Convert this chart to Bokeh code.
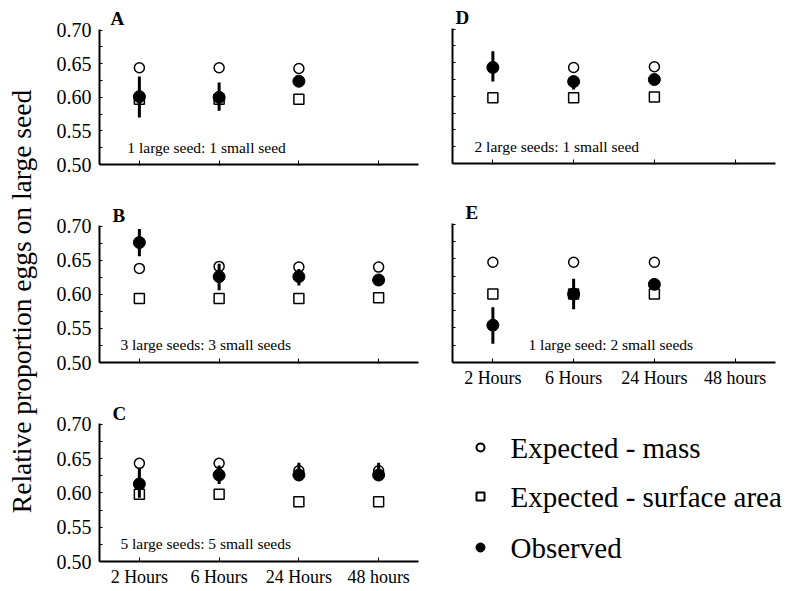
from math import pi
from bokeh.plotting import figure
from bokeh.layouts import row, column
from bokeh.models import (FactorRange, Range1d, FixedTicker, Label,
                          NumeralTickFormatter, ColumnDataSource)
from bokeh.embed import file_html
from bokeh.resources import INLINE

# ---------------- data ----------------
times = ["2 Hours", "6 Hours", "24 Hours", "48 hours"]
y_ticks = [0.50, 0.55, 0.60, 0.65, 0.70]
y_minor = [0.525, 0.575, 0.625, 0.675]

# Panel A: 1 large seed : 1 small seed
A_times = ["2 Hours", "6 Hours", "24 Hours"]
A_mass = [0.644, 0.644, 0.643]
A_surf = [0.597, 0.597, 0.597]
A_obs = [0.601, 0.600, 0.624]
A_lo = [0.570, 0.580, 0.619]
A_hi = [0.631, 0.622, 0.629]

# Panel B: 3 large seeds : 3 small seeds
B_times = ["2 Hours", "6 Hours", "24 Hours", "48 hours"]
B_mass = [0.638, 0.641, 0.640, 0.640]
B_surf = [0.594, 0.594, 0.594, 0.595]
B_obs = [0.676, 0.626, 0.626, 0.621]
B_lo = [0.656, 0.606, 0.613, 0.615]
B_hi = [0.696, 0.645, 0.637, 0.627]

# Panel C: 5 large seeds : 5 small seeds
C_times = ["2 Hours", "6 Hours", "24 Hours", "48 hours"]
C_mass = [0.643, 0.643, 0.632, 0.632]
C_surf = [0.598, 0.598, 0.587, 0.587]
C_obs = [0.613, 0.626, 0.626, 0.626]
C_lo = [0.593, 0.613, 0.618, 0.618]
C_hi = [0.636, 0.640, 0.644, 0.644]

# Panel D: 2 large seeds : 1 small seed
D_times = ["2 Hours", "6 Hours", "24 Hours"]
D_mass = [0.643, 0.643, 0.644]
D_surf = [0.598, 0.598, 0.599]
D_obs = [0.643, 0.622, 0.625]
D_lo = [0.622, 0.610, 0.620]
D_hi = [0.667, 0.628, 0.630]

# Panel E: 1 large seed : 2 small seeds
E_times = ["2 Hours", "6 Hours", "24 Hours"]
E_mass = [0.645, 0.645, 0.645]
E_surf = [0.599, 0.599, 0.599]
E_obs = [0.554, 0.599, 0.613]
E_lo = [0.527, 0.577, 0.608]
E_hi = [0.580, 0.621, 0.618]

legend_labels = ["Expected - mass", "Expected - surface area", "Observed"]
y_title = "Relative proportion eggs on large seed"

SERIF = "Liberation Serif"


def panel(t, mass, surf, obs, lo, hi, letter, note, note_x, letter_off, letter_so,
          w, h, bl, br, bt, bb, show_x, show_y):
    p = figure(width=w, height=h, x_range=FactorRange(*times, range_padding=0),
               y_range=Range1d(0.5, 0.701), output_backend="svg",
               toolbar_location=None, min_border_left=bl, min_border_right=br,
               min_border_top=bt, min_border_bottom=bb)
    p.outline_line_color = None
    p.grid.visible = False
    p.background_fill_color = "white"
    p.border_fill_color = "white"

    p.title.text = letter
    p.title.align = "left"
    p.title.offset = letter_off
    p.title.standoff = letter_so
    p.title.text_font = SERIF
    p.title.text_font_size = "19px"
    p.title.text_font_style = "bold"
    p.title.text_color = "black"

    src = ColumnDataSource(dict(t=t, mass=mass, surf=surf, obs=obs, lo=lo, hi=hi))
    p.scatter("t", "surf", source=src, marker="square", size=10,
              fill_color="white", line_color="black", line_width=1.5)
    p.scatter("t", "mass", source=src, marker="circle", size=10,
              fill_color="white", line_color="black", line_width=1.5)
    p.segment(x0="t", y0="lo", x1="t", y1="hi", source=src,
              line_color="black", line_width=3)
    p.scatter("t", "obs", source=src, marker="circle", size=12,
              fill_color="black", line_color="black", line_width=1)

    # axes
    ya = p.yaxis[0]
    ya.ticker = FixedTicker(ticks=y_ticks, minor_ticks=y_minor)
    ya.formatter = NumeralTickFormatter(format="0.00")
    ya.axis_line_width = 2
    ya.axis_line_color = "black"
    ya.major_tick_in = 3
    ya.major_tick_out = 0
    ya.minor_tick_in = 3
    ya.minor_tick_out = 0
    ya.major_tick_line_color = "black"
    ya.minor_tick_line_color = "black"
    ya.major_label_text_font = SERIF
    ya.major_label_text_color = "black"
    if show_y:
        ya.major_label_standoff = 8
        ya.major_label_text_font_size = "20px"
    else:
        ya.major_label_standoff = 0
        ya.major_label_text_font_size = "1px"
        ya.major_label_overrides = {v: "" for v in y_ticks}

    xa = p.xaxis[0]
    xa.axis_line_width = 2
    xa.axis_line_color = "black"
    xa.major_tick_in = 4
    xa.major_tick_out = 0
    xa.major_tick_line_color = "black"
    xa.major_label_text_font = SERIF
    xa.major_label_text_color = "black"
    if show_x:
        xa.major_label_standoff = 5
        xa.major_label_text_font_size = "18px"
    else:
        xa.major_label_standoff = 0
        xa.major_label_text_font_size = "1px"
        xa.major_label_overrides = {c: "" for c in times}

    p.add_layout(Label(x=note_x, y=0.526, text=note, text_font=SERIF,
                       text_font_size="15.5px", text_baseline="middle",
                       text_color="black"))
    return p


pA = panel(A_times, A_mass, A_surf, A_obs, A_lo, A_hi, "A",
           "1 large seed: 1 small seed", 0.349, 11, 2,
           377, 190, 44, 12, 29, 26, False, True)
pB = panel(B_times, B_mass, B_surf, B_obs, B_lo, B_hi, "B",
           "3 large seeds: 3 small seeds", 0.262, 13, 0,
           377, 190, 44, 12, 35, 18, False, True)
pC = panel(C_times, C_mass, C_surf, C_obs, C_lo, C_hi, "C",
           "5 large seeds: 5 small seeds", 0.262, 13, 0,
           377, 211, 44, 12, 43, 30, True, True)
pD = panel(D_times, D_mass, D_surf, D_obs, D_lo, D_hi, "D",
           "2 large seeds: 1 small seed", 0.272, 3, 2,
           361, 190, 22, 16, 28, 27, False, False)
pE = panel(E_times, E_mass, E_surf, E_obs, E_lo, E_hi, "E",
           "1 large seed: 2 small seeds", 0.941, 13, 1,
           361, 210, 22, 16, 33, 38, True, False)

# legend panel
LW, LH = 361, 191
pL = figure(width=LW, height=LH, x_range=Range1d(0, LW), y_range=Range1d(0, LH),
            output_backend="svg", toolbar_location=None, min_border=0,
            x_axis_location=None, y_axis_location=None)
pL.grid.visible = False
pL.outline_line_color = None
rows_y = [LH - 47, LH - 96, LH - 147]
pL.scatter([50], [rows_y[0]], marker="circle", size=8, fill_color="white",
           line_color="black", line_width=2)
pL.scatter([50], [rows_y[1]], marker="square", size=8, fill_color="white",
           line_color="black", line_width=2)
pL.scatter([50], [rows_y[2]], marker="circle", size=9, fill_color="black",
           line_color="black")
for yy, txt in zip(rows_y, legend_labels):
    pL.add_layout(Label(x=80, y=yy, text=txt, text_font=SERIF,
                        text_font_size="29px", text_baseline="middle",
                        text_color="black"))

# y-axis title panel
TW, TH = 53, 591
pT = figure(width=TW, height=TH, x_range=Range1d(0, TW), y_range=Range1d(0, TH),
            output_backend="svg", toolbar_location=None, min_border=0,
            x_axis_location=None, y_axis_location=None)
pT.grid.visible = False
pT.outline_line_color = None
pT.add_layout(Label(x=21, y=TH - 301, text=y_title, text_font=SERIF,
                    text_font_size="27.5px", text_align="center",
                    text_baseline="alphabetic", angle=pi / 2, text_color="black"))

layout = row(pT, column(pA, pB, pC), column(column(pD, pE), row(pL)))

with open("out.html", "w") as f:
    f.write(file_html(layout, INLINE))
